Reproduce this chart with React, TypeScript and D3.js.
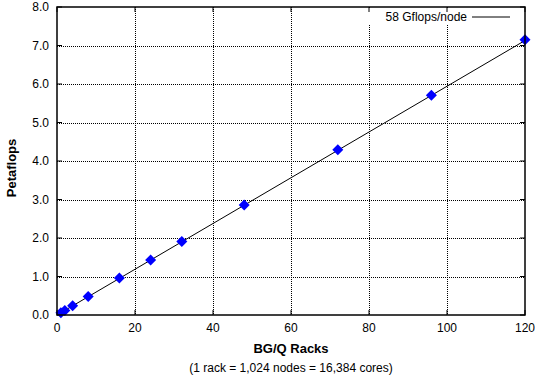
import React from "react";
import * as d3 from "d3";

// measured BG/Q scaling points
const racks = [1, 2, 4, 8, 16, 24, 32, 48, 72, 96, 120];
const petaflops = [0.06, 0.12, 0.24, 0.48, 0.96, 1.43, 1.91, 2.86, 4.29, 5.71, 7.15];

// reference line: 58 Gflops/node
const refRacks = [0, 120];
const refPetaflops = [0, 7.13];

const xTicks = [0, 20, 40, 60, 80, 100, 120];
const yTicks = [0, 1, 2, 3, 4, 5, 6, 7, 8];

const W = 535;
const H = 383;
const margin = { top: 7, right: 10, bottom: 68, left: 57 };

const App: React.FC = () => {
  const iw = W - margin.left - margin.right;
  const ih = H - margin.top - margin.bottom;
  const x = d3.scaleLinear().domain([0, 120]).range([0, iw]);
  const y = d3.scaleLinear().domain([0, 8]).range([ih, 0]);

  const line = d3
    .line<number>()
    .x((d) => x(d))
    .y((_, i) => y(refPetaflops[i]));

  // square diamond, ~11px across
  const diamond = "M0,-5.5L5.5,0L0,5.5L-5.5,0Z";
  const font = "'Liberation Sans', Arial, Helvetica, sans-serif";

  return (
    <svg
      width={W}
      height={H}
      style={{ position: "absolute", left: 0, top: 0, background: "#fff" }}
      fontFamily={font}
    >
      <g transform={`translate(${margin.left},${margin.top})`}>
        {/* grid */}
        {xTicks.slice(1, -1).map((t) => (
          <line key={"gx" + t} x1={Math.round(x(t)) + 0.5} x2={Math.round(x(t)) + 0.5} y1={0} y2={ih} stroke="#000" strokeWidth={1} strokeDasharray="1,1" shapeRendering="crispEdges" />
        ))}
        {yTicks.slice(1, -1).map((t) => (
          <line key={"gy" + t} x1={0} x2={iw} y1={Math.round(y(t)) + 0.5} y2={Math.round(y(t)) + 0.5} stroke="#000" strokeWidth={1} strokeDasharray="1,1" shapeRendering="crispEdges" />
        ))}

        {/* legend backing */}
        <rect x={x(80) - 10} y={1} width={iw - x(80) + 9} height={16} fill="#fff" />
        <text x={410} y={14} fontSize={12} textAnchor="end" fill="#000">
          58 Gflops/node
        </text>
        <line x1={415} x2={453} y1={10} y2={10} stroke="#000" strokeWidth={1} />

        {/* ticks (inward, mirrored) */}
        {xTicks.map((t) => (
          <g key={"tx" + t}>
            <line x1={x(t)} x2={x(t)} y1={ih} y2={ih - 5} stroke="#000" />
            <line x1={x(t)} x2={x(t)} y1={0} y2={5} stroke="#000" />
            <text x={x(t)} y={ih + 17} fontSize={12} textAnchor="middle" fill="#000">
              {t}
            </text>
          </g>
        ))}
        {yTicks.map((t) => (
          <g key={"ty" + t}>
            <line x1={0} x2={5} y1={y(t)} y2={y(t)} stroke="#000" />
            <line x1={iw} x2={iw - 5} y1={y(t)} y2={y(t)} stroke="#000" />
            <text x={-8} y={y(t) + 4} fontSize={12} textAnchor="end" fill="#000">
              {d3.format(".1f")(t)}
            </text>
          </g>
        ))}

        {/* reference line */}
        <path d={line(refRacks) ?? ""} fill="none" stroke="#000" strokeWidth={1} />

        {/* points */}
        {racks.map((r, i) => (
          <path key={"p" + r} d={diamond} transform={`translate(${x(r)},${y(petaflops[i])})`} fill="#0000ff" />
        ))}

        {/* frame */}
        <rect x={0} y={0} width={iw} height={ih} fill="none" stroke="#000" strokeWidth={1.5} />

        {/* axis titles */}
        <text x={iw / 2} y={ih + 38} fontSize={13} fontWeight="bold" textAnchor="middle" fill="#000">
          BG/Q Racks
        </text>
        <text x={iw / 2} y={ih + 57} fontSize={12} textAnchor="middle" fill="#000">
          (1 rack = 1,024 nodes = 16,384 cores)
        </text>
        <text
          transform={`translate(${-41},${ih / 2 + 7}) rotate(-90)`}
          fontSize={13}
          fontWeight="bold"
          textAnchor="middle"
          fill="#000"
        >
          Petaflops
        </text>
      </g>
    </svg>
  );
};

export default App;
